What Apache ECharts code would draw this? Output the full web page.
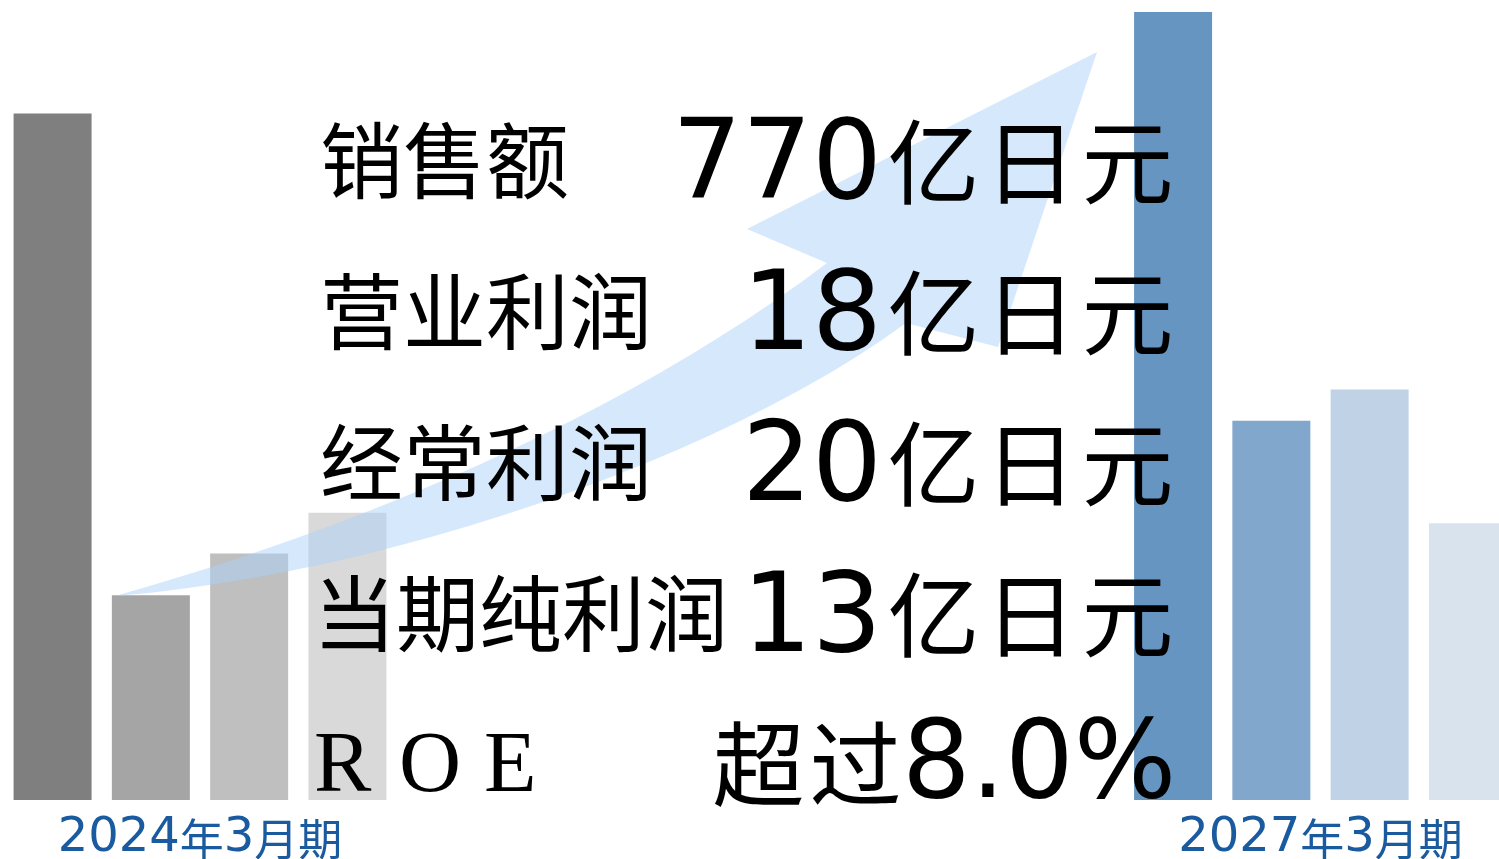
<!DOCTYPE html>
<html>
<head>
<meta charset="utf-8">
<script src="https://cdn.jsdelivr.net/npm/echarts@6/dist/echarts.min.js"></script>
<style>
  html, body { margin: 0; padding: 0; background: #fff; }
  #chart { width: 1499px; height: 859px; }
</style>
</head>
<body>
<div id="chart"></div>
<script>
// periods (one category per group)
var periods = ['2024年3月期', '2027年3月期'];
// bar order inside each group
var metrics = ['销售额', '营业利润', '经常利润', '当期纯利润'];
// bar heights (share of the plot height, %)
var heights2024 = [85.8, 25.6, 30.8, 35.9];
var heights2027 = [98.5, 47.4, 51.3, 34.6];
// target texts shown over the chart
var targetNums = ['770', '18', '20', '13'];
var unitText = '亿日元';
var roeLabel = 'ROE';
var roeText = '超过';
var roeNum = '8.0%';

var grays = ['#7f7f7f', '#a5a5a5', '#bfbfbf', '#d9d9d9'];
var blues = ['#6795c2', '#82a7cc', '#c0d3e6', '#d9e3ee'];

var CJK = '"Noto Sans CJK SC"';
var NUM = '"DejaVu Sans"';

var chart = echarts.init(document.getElementById('chart'));

function axisX(grid, name) {
    return {
        type: 'category', gridIndex: grid, data: [name],
        axisLine: { show: false }, axisTick: { show: false },
        axisLabel: {
            margin: 15,
            formatter: function (v) {
                // digits and CJK in different fonts
                return v.replace(/(\d+)/g, '{d|$1}').replace(/([^\d{}|a-z]+)/g, '{c|$1}');
            },
            rich: {
                d: { fontFamily: NUM, fontSize: 48, color: '#1a5a9f', lineHeight: 48 },
                c: { fontFamily: CJK, fontSize: 44, color: '#1a5a9f', lineHeight: 48 }
            }
        }
    };
}
function axisY(grid) {
    return { type: 'value', gridIndex: grid, min: 0, max: 100, show: false };
}

var series = [];
metrics.forEach(function (m, i) {
    series.push({ name: m, type: 'bar', xAxisIndex: 0, yAxisIndex: 0, barWidth: 78, barGap: '26%', clip: false,
        itemStyle: { color: grays[i] }, data: [heights2024[i]], silent: true });
});
metrics.forEach(function (m, i) {
    series.push({ name: m, type: 'bar', xAxisIndex: 1, yAxisIndex: 1, barWidth: 78, barGap: '26%', clip: false,
        itemStyle: { color: blues[i] }, data: [heights2027[i]], silent: true });
});

// cubic curve sampled into points
function bez(p0, p1, p2, p3) {
    var out = [];
    for (var k = 0; k <= 24; k++) {
        var t = k / 24, u = 1 - t;
        out.push([
            u * u * u * p0[0] + 3 * u * u * t * p1[0] + 3 * u * t * t * p2[0] + t * t * t * p3[0],
            u * u * u * p0[1] + 3 * u * u * t * p1[1] + 3 * u * t * t * p2[1] + t * t * t * p3[1]
        ]);
    }
    return out;
}
var arrowPts = bez([115, 596], [350, 530], [620, 420], [827, 263])
    .concat([[747, 229], [1097, 52], [998, 347]])
    .concat(bez([906, 323], [720, 460], [380, 575], [115, 596]));

function spaced(str, key) {
    return str.split('').map(function (ch) { return '{' + key + '|' + ch + '}'; }).join('');
}

// text rows
var rowY = [160, 311, 462, 613, 768];
var labelX = [320, 320, 320, 313];
var graphics = [];
graphics.push({
    type: 'polygon', z: 10, silent: true,
    shape: { points: arrowPts },
    style: { fill: 'rgba(171,209,249,0.5)' }
});
var cjkBox = { fontFamily: CJK, fontSize: 92, width: 97, align: 'center', lineHeight: 110 };
metrics.forEach(function (m, i) {
    graphics.push({
        type: 'text', z: 20, x: labelX[i], y: rowY[i],
        style: { text: m, font: '83px ' + CJK, fill: '#000', verticalAlign: 'middle' }
    });
    graphics.push({
        type: 'text', z: 20, x: 882, y: rowY[i] + 9,
        style: { text: targetNums[i], font: '110px ' + NUM, fill: '#000', align: 'right', verticalAlign: 'middle' }
    });
    graphics.push({
        type: 'text', z: 20, x: 1176, y: rowY[i] + 2,
        style: { text: spaced(unitText, 'c'), align: 'right', verticalAlign: 'middle', fill: '#000', rich: { c: cjkBox } }
    });
});
graphics.push({
    type: 'text', z: 20, x: 314, y: rowY[4],
    style: {
        text: spaced(roeLabel, 'r'), verticalAlign: 'middle', fill: '#000',
        rich: { r: { fontFamily: '"Liberation Serif"', fontSize: 86, width: 85, lineHeight: 110 } }
    }
});
graphics.push({
    type: 'text', z: 20, x: 904, y: rowY[4] - 4,
    style: { text: spaced(roeText, 'c'), align: 'right', verticalAlign: 'middle', fill: '#000', rich: { c: cjkBox } }
});
graphics.push({
    type: 'text', z: 20, x: 902, y: rowY[4] + 1,
    style: { text: roeNum, font: '108px ' + NUM, fill: '#000', verticalAlign: 'middle' }
});

chart.setOption({
    animation: false,
    backgroundColor: '#ffffff',
    grid: [
        { left: 0, width: 400, top: 0, bottom: 59, outerBoundsMode: 'none' },
        { left: 1142, right: 0, top: 0, bottom: 59, outerBoundsMode: 'none' }
    ],
    xAxis: [axisX(0, periods[0]), axisX(1, periods[1])],
    yAxis: [axisY(0), axisY(1)],
    series: series,
    graphic: graphics
});
</script>
</body>
</html>
